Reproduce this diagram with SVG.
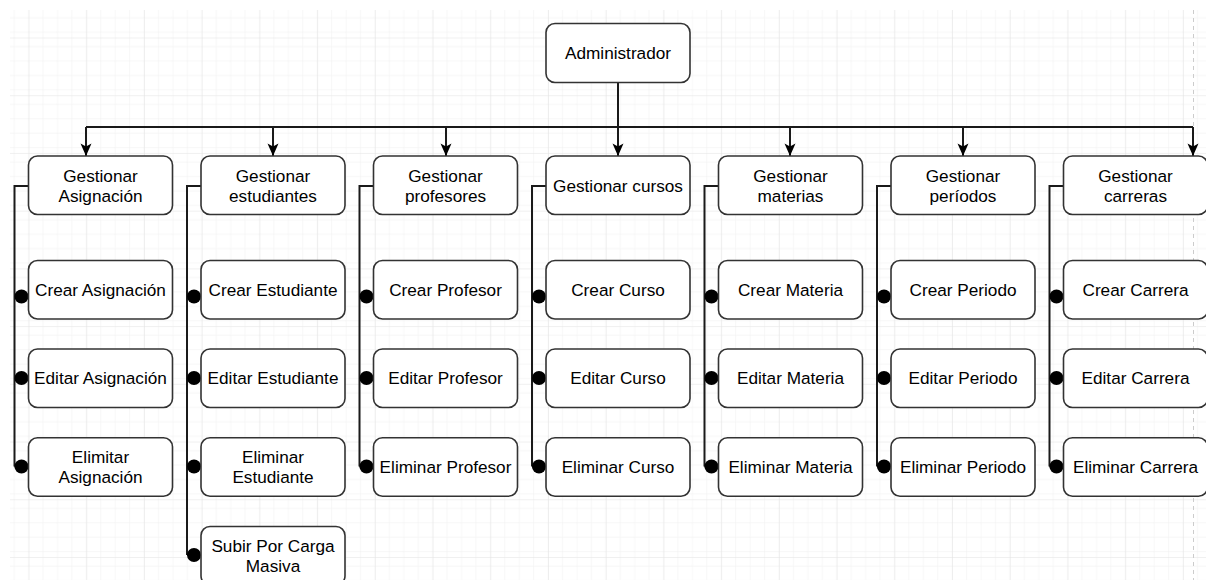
<svg xmlns="http://www.w3.org/2000/svg" width="1206" height="580" viewBox="0 0 1206 580">
  <style>
    .box { fill: #ffffff; stroke: #333333; stroke-width: 1.6; }
    .lbl { font-family: "Liberation Sans", Arial, sans-serif; font-size: 17.2px; fill: #000000; text-anchor: middle; }
    .wire { fill: none; stroke: #1a1a1a; stroke-width: 2; }
    .dot { fill: #000000; }
  </style>
  <defs>
    <pattern id="minorGrid" patternUnits="userSpaceOnUse" x="28.5" y="37.5" width="14.43" height="14.43">
      <path d="M 0 0 L 14.43 0 M 0 0 L 0 14.43" fill="none" stroke="#f0f0f0" stroke-width="1"/>
    </pattern>
    <pattern id="majorGrid" patternUnits="userSpaceOnUse" x="28.5" y="37.5" width="57.72" height="57.72">
      <rect width="57.72" height="57.72" fill="url(#minorGrid)"/>
      <path d="M 0 0 L 57.72 0 M 0 0 L 0 57.72" fill="none" stroke="#e2e2e2" stroke-width="1"/>
    </pattern>
    <!-- classic arrowhead, tip at the line end -->
    <marker id="arrow" markerUnits="userSpaceOnUse" viewBox="-14 -7 15 14" refX="0" refY="0" markerWidth="15" markerHeight="14" orient="auto" overflow="visible">
      <path d="M 0 0 L -12.5 -5.5 L -9.5 0 L -12.5 5.5 Z" fill="#000000"/>
    </marker>
  </defs>

  <!-- canvas -->
  <rect x="0" y="0" width="1206" height="580" fill="#ffffff"/>
  <rect x="10" y="10" width="1196" height="570" fill="url(#majorGrid)"/>
  <line x1="1193.5" y1="10" x2="1193.5" y2="580" stroke="#cccccc" stroke-width="1" stroke-dasharray="4 4"/>

  <!-- connectors -->
  <g id="connectors">
    <path class="wire" d="M 618 82.5 L 618 127"/>
    <path class="wire" d="M 86 127 L 1193 127"/>
    <path class="wire" d="M 86 127 L 86 156" marker-end="url(#arrow)"/>
    <path class="wire" d="M 273 127 L 273 156" marker-end="url(#arrow)"/>
    <path class="wire" d="M 446 127 L 446 156" marker-end="url(#arrow)"/>
    <path class="wire" d="M 618 127 L 618 156" marker-end="url(#arrow)"/>
    <path class="wire" d="M 790 127 L 790 156" marker-end="url(#arrow)"/>
    <path class="wire" d="M 963 127 L 963 156" marker-end="url(#arrow)"/>
    <path class="wire" d="M 1193 127 L 1193 156" marker-end="url(#arrow)"/>

    <!-- column trunks -->
    <path class="wire" d="M 28.5 186 L 14.5 186 L 14.5 466.5 M 14.5 296.5 L 21.5 296.5 M 14.5 378 L 21.5 378 M 14.5 466.5 L 21.5 466.5"/>
    <path class="wire" d="M 201 186 L 187 186 L 187 555 M 187 296.5 L 194 296.5 M 187 378 L 194 378 M 187 466.5 L 194 466.5 M 187 555 L 194 555"/>
    <path class="wire" d="M 373.5 186 L 359.5 186 L 359.5 466.5 M 359.5 296.5 L 366.5 296.5 M 359.5 378 L 366.5 378 M 359.5 466.5 L 366.5 466.5"/>
    <path class="wire" d="M 546 186 L 532 186 L 532 466.5 M 532 296.5 L 539 296.5 M 532 378 L 539 378 M 532 466.5 L 539 466.5"/>
    <path class="wire" d="M 718.5 186 L 704.5 186 L 704.5 466.5 M 704.5 296.5 L 711.5 296.5 M 704.5 378 L 711.5 378 M 704.5 466.5 L 711.5 466.5"/>
    <path class="wire" d="M 891 186 L 877 186 L 877 466.5 M 877 296.5 L 884 296.5 M 877 378 L 884 378 M 877 466.5 L 884 466.5"/>
    <path class="wire" d="M 1063.5 186 L 1049.5 186 L 1049.5 466.5 M 1049.5 296.5 L 1056.5 296.5 M 1049.5 378 L 1056.5 378 M 1049.5 466.5 L 1056.5 466.5"/>

    <!-- end dots -->
    <circle class="dot" cx="21.5" cy="296.5" r="7"/>
    <circle class="dot" cx="21.5" cy="378" r="7"/>
    <circle class="dot" cx="21.5" cy="466.5" r="7"/>
    <circle class="dot" cx="194" cy="296.5" r="7"/>
    <circle class="dot" cx="194" cy="378" r="7"/>
    <circle class="dot" cx="194" cy="466.5" r="7"/>
    <circle class="dot" cx="194" cy="555" r="7"/>
    <circle class="dot" cx="366.5" cy="296.5" r="7"/>
    <circle class="dot" cx="366.5" cy="378" r="7"/>
    <circle class="dot" cx="366.5" cy="466.5" r="7"/>
    <circle class="dot" cx="539" cy="296.5" r="7"/>
    <circle class="dot" cx="539" cy="378" r="7"/>
    <circle class="dot" cx="539" cy="466.5" r="7"/>
    <circle class="dot" cx="711.5" cy="296.5" r="7"/>
    <circle class="dot" cx="711.5" cy="378" r="7"/>
    <circle class="dot" cx="711.5" cy="466.5" r="7"/>
    <circle class="dot" cx="884" cy="296.5" r="7"/>
    <circle class="dot" cx="884" cy="378" r="7"/>
    <circle class="dot" cx="884" cy="466.5" r="7"/>
    <circle class="dot" cx="1056.5" cy="296.5" r="7"/>
    <circle class="dot" cx="1056.5" cy="378" r="7"/>
    <circle class="dot" cx="1056.5" cy="466.5" r="7"/>
  </g>

  <!-- root -->
  <g id="administrador">
    <rect class="box" x="546" y="23.5" width="144" height="59" rx="9"/>
    <text class="lbl" x="618" y="59">Administrador</text>
  </g>

  <!-- column 1 -->
  <g id="gestionar-asignacion">
    <rect class="box" x="28.5" y="156" width="144" height="58.5" rx="9"/>
    <text class="lbl" x="100.5" y="181.5">Gestionar</text>
    <text class="lbl" x="100.5" y="201.5">Asignación</text>
  </g>
  <g id="crear-asignacion">
    <rect class="box" x="28.5" y="260.5" width="144" height="58.5" rx="9"/>
    <text class="lbl" x="100.5" y="295.5">Crear Asignación</text>
  </g>
  <g id="editar-asignacion">
    <rect class="box" x="28.5" y="349" width="144" height="58.5" rx="9"/>
    <text class="lbl" x="100.5" y="384">Editar Asignación</text>
  </g>
  <g id="elimitar-asignacion">
    <rect class="box" x="28.5" y="437.7" width="144" height="58.5" rx="9"/>
    <text class="lbl" x="100.5" y="463">Elimitar</text>
    <text class="lbl" x="100.5" y="483">Asignación</text>
  </g>

  <!-- column 2 -->
  <g id="gestionar-estudiantes">
    <rect class="box" x="201" y="156" width="144" height="58.5" rx="9"/>
    <text class="lbl" x="273" y="181.5">Gestionar</text>
    <text class="lbl" x="273" y="201.5">estudiantes</text>
  </g>
  <g id="crear-estudiante">
    <rect class="box" x="201" y="260.5" width="144" height="58.5" rx="9"/>
    <text class="lbl" x="273" y="295.5">Crear Estudiante</text>
  </g>
  <g id="editar-estudiante">
    <rect class="box" x="201" y="349" width="144" height="58.5" rx="9"/>
    <text class="lbl" x="273" y="384">Editar Estudiante</text>
  </g>
  <g id="eliminar-estudiante">
    <rect class="box" x="201" y="437.7" width="144" height="58.5" rx="9"/>
    <text class="lbl" x="273" y="463">Eliminar</text>
    <text class="lbl" x="273" y="483">Estudiante</text>
  </g>
  <g id="subir-carga-masiva">
    <rect class="box" x="201" y="526.5" width="144" height="58.5" rx="9"/>
    <text class="lbl" x="273" y="552">Subir Por Carga</text>
    <text class="lbl" x="273" y="572">Masiva</text>
  </g>

  <!-- column 3 -->
  <g id="gestionar-profesores">
    <rect class="box" x="373.5" y="156" width="144" height="58.5" rx="9"/>
    <text class="lbl" x="445.5" y="181.5">Gestionar</text>
    <text class="lbl" x="445.5" y="201.5">profesores</text>
  </g>
  <g id="crear-profesor">
    <rect class="box" x="373.5" y="260.5" width="144" height="58.5" rx="9"/>
    <text class="lbl" x="445.5" y="295.5">Crear Profesor</text>
  </g>
  <g id="editar-profesor">
    <rect class="box" x="373.5" y="349" width="144" height="58.5" rx="9"/>
    <text class="lbl" x="445.5" y="384">Editar Profesor</text>
  </g>
  <g id="eliminar-profesor">
    <rect class="box" x="373.5" y="437.7" width="144" height="58.5" rx="9"/>
    <text class="lbl" x="445.5" y="473">Eliminar Profesor</text>
  </g>

  <!-- column 4 -->
  <g id="gestionar-cursos">
    <rect class="box" x="546" y="156" width="144" height="58.5" rx="9"/>
    <text class="lbl" x="618" y="191.5">Gestionar cursos</text>
  </g>
  <g id="crear-curso">
    <rect class="box" x="546" y="260.5" width="144" height="58.5" rx="9"/>
    <text class="lbl" x="618" y="295.5">Crear Curso</text>
  </g>
  <g id="editar-curso">
    <rect class="box" x="546" y="349" width="144" height="58.5" rx="9"/>
    <text class="lbl" x="618" y="384">Editar Curso</text>
  </g>
  <g id="eliminar-curso">
    <rect class="box" x="546" y="437.7" width="144" height="58.5" rx="9"/>
    <text class="lbl" x="618" y="473">Eliminar Curso</text>
  </g>

  <!-- column 5 -->
  <g id="gestionar-materias">
    <rect class="box" x="718.5" y="156" width="144" height="58.5" rx="9"/>
    <text class="lbl" x="790.5" y="181.5">Gestionar</text>
    <text class="lbl" x="790.5" y="201.5">materias</text>
  </g>
  <g id="crear-materia">
    <rect class="box" x="718.5" y="260.5" width="144" height="58.5" rx="9"/>
    <text class="lbl" x="790.5" y="295.5">Crear Materia</text>
  </g>
  <g id="editar-materia">
    <rect class="box" x="718.5" y="349" width="144" height="58.5" rx="9"/>
    <text class="lbl" x="790.5" y="384">Editar Materia</text>
  </g>
  <g id="eliminar-materia">
    <rect class="box" x="718.5" y="437.7" width="144" height="58.5" rx="9"/>
    <text class="lbl" x="790.5" y="473">Eliminar Materia</text>
  </g>

  <!-- column 6 -->
  <g id="gestionar-periodos">
    <rect class="box" x="891" y="156" width="144" height="58.5" rx="9"/>
    <text class="lbl" x="963" y="181.5">Gestionar</text>
    <text class="lbl" x="963" y="201.5">períodos</text>
  </g>
  <g id="crear-periodo">
    <rect class="box" x="891" y="260.5" width="144" height="58.5" rx="9"/>
    <text class="lbl" x="963" y="295.5">Crear Periodo</text>
  </g>
  <g id="editar-periodo">
    <rect class="box" x="891" y="349" width="144" height="58.5" rx="9"/>
    <text class="lbl" x="963" y="384">Editar Periodo</text>
  </g>
  <g id="eliminar-periodo">
    <rect class="box" x="891" y="437.7" width="144" height="58.5" rx="9"/>
    <text class="lbl" x="963" y="473">Eliminar Periodo</text>
  </g>

  <!-- column 7 -->
  <g id="gestionar-carreras">
    <rect class="box" x="1063.5" y="156" width="144" height="58.5" rx="9"/>
    <text class="lbl" x="1135.5" y="181.5">Gestionar</text>
    <text class="lbl" x="1135.5" y="201.5">carreras</text>
  </g>
  <g id="crear-carrera">
    <rect class="box" x="1063.5" y="260.5" width="144" height="58.5" rx="9"/>
    <text class="lbl" x="1135.5" y="295.5">Crear Carrera</text>
  </g>
  <g id="editar-carrera">
    <rect class="box" x="1063.5" y="349" width="144" height="58.5" rx="9"/>
    <text class="lbl" x="1135.5" y="384">Editar Carrera</text>
  </g>
  <g id="eliminar-carrera">
    <rect class="box" x="1063.5" y="437.7" width="144" height="58.5" rx="9"/>
    <text class="lbl" x="1135.5" y="473">Eliminar Carrera</text>
  </g>
</svg>
